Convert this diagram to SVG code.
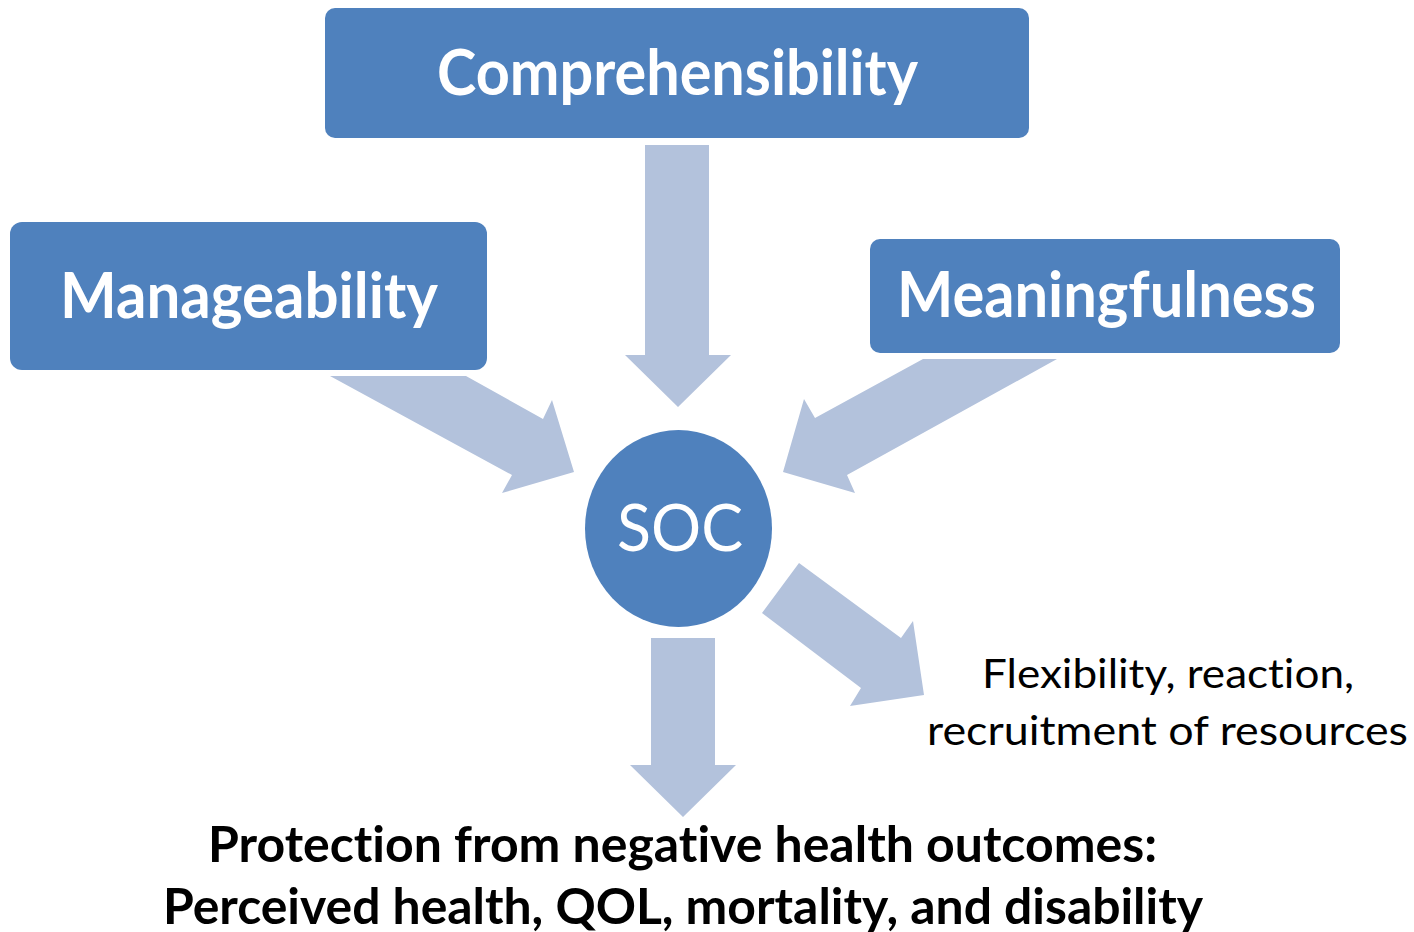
<svg xmlns="http://www.w3.org/2000/svg" width="1414" height="932" viewBox="0 0 1414 932">
  <style>
    .box { fill: #4F81BD; }
    .arrow { fill: #B3C2DC; }
    text { font-family: Lato, "Open Sans", "Liberation Sans", sans-serif; font-variant-ligatures: none; font-feature-settings: "liga" 0, "dlig" 0; text-anchor: middle; }
    .label { font-weight: 700; fill: #FFFFFF; }
    .soc { font-weight: 400; fill: #FFFFFF; }
    .note { font-weight: 400; fill: #000000; }
    .outcome { font-weight: 700; fill: #000000; }
  </style>
  <rect width="1414" height="932" fill="#FFFFFF"/>

  <!-- block arrows feeding into and out of the central circle -->
  <g id="connectors">
    <polygon class="arrow" points="645,145 709,145 709,355 731,355 678,407 625,355 645,355"/>
    <polygon class="arrow" points="330,376 466,376 543,419 552,400 574,472 502,493 512,475"/>
    <polygon class="arrow" points="923,359 1057,359 847,475 855,493 783,472 804,399 815,418"/>
    <polygon class="arrow" points="799,563 901,638 913,621 924,695 850,706 861,688 762,613"/>
    <polygon class="arrow" points="651,638 715,638 715,765 736,765 683,817 630,765 651,765"/>
  </g>

  <g id="comprehensibility">
    <rect class="box" x="325" y="8" width="704" height="130" rx="10" ry="10"/>
    <text class="label" x="677.5" y="95" font-size="64" textLength="481" lengthAdjust="spacingAndGlyphs">Comprehensibility</text>
  </g>

  <g id="manageability">
    <rect class="box" x="10" y="222" width="477" height="148" rx="12" ry="12"/>
    <text class="label" x="249" y="318" font-size="64" textLength="378" lengthAdjust="spacingAndGlyphs">Manageability</text>
  </g>

  <g id="meaningfulness">
    <rect class="box" x="870" y="239" width="470" height="114" rx="10" ry="10"/>
    <text class="label" x="1106.5" y="317" font-size="64" textLength="419" lengthAdjust="spacingAndGlyphs">Meaningfulness</text>
  </g>

  <g id="soc">
    <ellipse class="box" cx="678.5" cy="528.5" rx="93.5" ry="98.5"/>
    <text class="soc" x="680" y="551" font-size="65" textLength="126" lengthAdjust="spacingAndGlyphs">SOC</text>
  </g>

  <g id="flexibility">
    <text class="note" x="1168" y="688" font-size="40" textLength="372" lengthAdjust="spacingAndGlyphs">Flexibility, reaction,</text>
    <text class="note" x="1167.5" y="745" font-size="40" textLength="481" lengthAdjust="spacingAndGlyphs">recruitment of resources</text>
  </g>

  <g id="outcomes">
    <text class="outcome" x="682.5" y="862" font-size="49" textLength="949" lengthAdjust="spacingAndGlyphs">Protection from negative health outcomes:</text>
    <text class="outcome" x="683" y="924" font-size="49" textLength="1040" lengthAdjust="spacingAndGlyphs">Perceived health, QOL, mortality, and disability</text>
  </g>
</svg>
